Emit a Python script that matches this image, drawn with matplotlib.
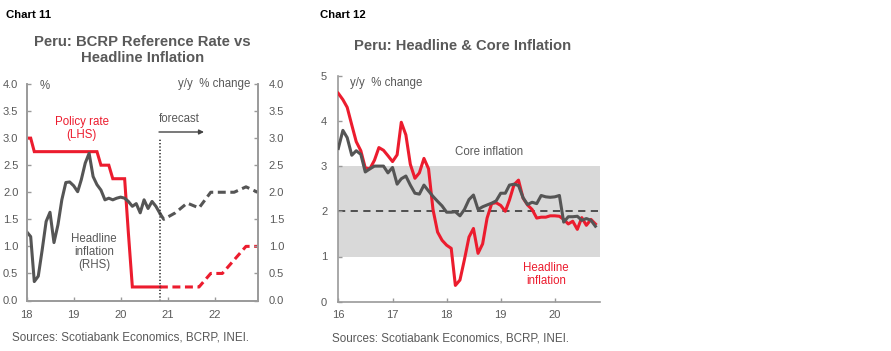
import numpy as np
import pandas as pd
import matplotlib
matplotlib.use("Agg")
import matplotlib.pyplot as plt
import matplotlib.dates as mdates

plt.rcParams["font.family"] = ["Liberation Sans", "DejaVu Sans"]

# ---- data: chart 11 ----
c11_months = pd.date_range("2018-01-01", periods=35, freq="MS")
c11_policy = [3.0, 3.0, 2.75, 2.75, 2.75, 2.75, 2.75, 2.75, 2.75, 2.75, 2.75, 2.75,
              2.75, 2.75, 2.75, 2.75, 2.75, 2.75, 2.75, 2.5, 2.5, 2.5, 2.25, 2.25,
              2.25, 2.25, 1.25, 0.25, 0.25, 0.25, 0.25, 0.25, 0.25, 0.25, 0.25]
c11_headline = [1.27, 1.18, 0.35, 0.45, 0.93, 1.46, 1.63, 1.07, 1.40, 1.86, 2.18, 2.19,
                2.12, 2.01, 2.23, 2.54, 2.72, 2.29, 2.14, 2.04, 1.86, 1.89, 1.86, 1.89,
                1.91, 1.89, 1.83, 1.74, 1.79, 1.62, 1.86, 1.70, 1.83, 1.74, 1.61]
c11_fc_dates = pd.to_datetime(["2020-11-01", "2020-12-01", "2021-03-01", "2021-06-01", "2021-09-01",
                               "2021-12-01", "2022-03-01", "2022-06-01", "2022-09-01", "2022-12-01"])
c11_fc_policy = [0.25, 0.25, 0.25, 0.25, 0.25, 0.5, 0.5, 0.75, 1.0, 1.0]
c11_fc_headline = [1.61, 1.50, 1.62, 1.80, 1.71, 2.0, 2.0, 2.0, 2.1, 2.0]
c11_forecast_start = pd.Timestamp("2020-11-01")

# ---- data: chart 12 ----
c12_months = pd.date_range("2016-01-01", periods=58, freq="MS")
c12_headline = [4.61, 4.47, 4.30, 3.91, 3.54, 3.34, 2.96, 2.94, 3.13, 3.41, 3.35, 3.23,
                3.10, 3.25, 3.97, 3.69, 3.04, 2.73, 2.85, 3.17, 2.94, 2.04, 1.54, 1.36,
                1.25, 1.18, 0.36, 0.48, 0.93, 1.43, 1.62, 1.07, 1.28, 1.85, 2.17, 2.19,
                2.13, 2.00, 2.25, 2.59, 2.69, 2.29, 2.14, 2.04, 1.85, 1.87, 1.87, 1.90,
                1.90, 1.89, 1.82, 1.72, 1.78, 1.60, 1.86, 1.69, 1.82, 1.72]
c12_core = [3.39, 3.79, 3.63, 3.24, 3.34, 3.26, 2.87, 2.94, 3.00, 3.00, 3.00, 2.85,
            2.97, 2.60, 2.72, 2.78, 2.58, 2.40, 2.38, 2.58, 2.45, 2.33, 2.22, 2.12,
            1.98, 1.98, 1.99, 1.90, 2.04, 2.26, 2.36, 2.04, 2.10, 2.14, 2.18, 2.23,
            2.40, 2.40, 2.58, 2.60, 2.57, 2.30, 2.15, 2.20, 2.17, 2.35, 2.32, 2.31,
            2.32, 2.35, 1.76, 1.88, 1.88, 1.89, 1.80, 1.84, 1.80, 1.67]
target_low, target_mid, target_high = 1, 2, 3

RED = "#ec1c2e"
GREY = "#555555"
TXT = "#595959"
AXC = "#9a9a9a"

W, H = 891, 351
fig = plt.figure(figsize=(W / 100, H / 100), dpi=100)


def fx(x):
    return x / W


def fy(y):
    return 1 - y / H


def style_axis(ax, sides):
    for s in ["top", "bottom", "left", "right"]:
        ax.spines[s].set_visible(s in sides)
        ax.spines[s].set_color(AXC)
        ax.spines[s].set_linewidth(1.2)
    ax.tick_params(direction="in", length=3, width=1, color=AXC, labelcolor=TXT, labelsize=8)


# %% chart 11
ax1 = fig.add_axes([fx(26.7), fy(300.5), fx(257.7) - fx(26.7), fy(84) - fy(300.5)])
ax1.plot(c11_months, c11_policy, color=RED, lw=2.2, solid_joinstyle="miter")
ax1.plot(c11_fc_dates, c11_fc_policy, color=RED, lw=2.2, dashes=(2.6, 1.5))
ax1.set_xlim(pd.Timestamp("2018-01-01"), pd.Timestamp("2022-12-01"))
ax1.set_ylim(0, 4)
ax1.set_yticks(np.arange(0, 4.01, 0.5))
ax1.yaxis.set_major_formatter(matplotlib.ticker.FormatStrFormatter("%.1f"))
ax1.xaxis.set_major_locator(mdates.YearLocator())
ax1.xaxis.set_major_formatter(mdates.DateFormatter("%y"))
style_axis(ax1, ["left", "bottom", "right"])
ax1.tick_params(axis="y", pad=6)
ax1.tick_params(axis="x", pad=7, labelsize=8)

ax1r = ax1.twinx()
ax1r.plot(c11_months, c11_headline, color=GREY, lw=2.2)
ax1r.plot(c11_fc_dates, c11_fc_headline, color=GREY, lw=2.2, dashes=(2.6, 1.5))
ax1r.set_ylim(0, 4)
ax1r.set_yticks(np.arange(0, 4.01, 0.5))
ax1r.yaxis.set_major_formatter(matplotlib.ticker.FormatStrFormatter("%.1f"))
style_axis(ax1r, ["left", "bottom", "right"])
ax1r.tick_params(axis="y", pad=8)
ax1r.axvline(c11_forecast_start, ymin=0, ymax=(300.5 - 138) / (300.5 - 84), color="#333333",
             lw=1.2, dashes=(0.8, 1.2))

fig.text(fx(6), fy(15), "Chart 11", fontsize=8.2, fontweight="bold", color="black",
         family=["Liberation Sans Narrow", "Liberation Sans"], va="center")
fig.text(fx(142.7), fy(50), "Peru: BCRP Reference Rate vs\nHeadline Inflation", fontsize=10.7,
         fontweight="bold", color=TXT, ha="center", va="center", linespacing=1.12)
fig.text(fx(40), fy(86), "%", fontsize=8.3, color=TXT, va="center")
fig.text(fx(250.5), fy(84), "y/y  % change", fontsize=8.3, color=TXT, va="center", ha="right")
fig.text(fx(81.7), fy(128.5), "Policy rate\n(LHS)", fontsize=8.3, color=RED, ha="center", va="center",
         linespacing=1.1)
fig.text(fx(94), fy(252), "Headline\ninflation\n(RHS)", fontsize=8.3, color=TXT, ha="center",
         va="center", linespacing=1.1)
fig.text(fx(159), fy(119.5), "forecast", fontsize=8.3, color=TXT, va="center")
ax1.annotate("", xy=(fx(204), fy(132)), xytext=(fx(159), fy(132)), xycoords=fig.transFigure,
             arrowprops=dict(arrowstyle="-|>", color="#444444", lw=1, shrinkA=0, shrinkB=0,
                             mutation_scale=7))
fig.text(fx(12.5), fy(337), "Sources: Scotiabank Economics, BCRP, INEI.", fontsize=8.4, color=TXT,
         va="center")

# %% chart 12
ax2 = fig.add_axes([fx(338.3), fy(301.7), fx(600) - fx(338.3), fy(75.7) - fy(301.7)])
ax2.axhspan(target_low, target_high, color="#d9d9d9", lw=0, zorder=0)
ax2.axhline(target_mid, color="#444444", lw=1.3, dashes=(4, 3), zorder=1)
ax2.plot(c12_months, c12_headline, color=RED, lw=2.2, zorder=3)
ax2.plot(c12_months, c12_core, color=GREY, lw=2.2, zorder=4)
ax2.set_xlim(pd.Timestamp("2016-01-01"), pd.Timestamp("2020-11-01"))
ax2.set_ylim(0, 5)
ax2.set_yticks(range(0, 6))
ax2.xaxis.set_major_locator(mdates.YearLocator())
ax2.xaxis.set_major_formatter(mdates.DateFormatter("%y"))
style_axis(ax2, ["left", "bottom"])
ax2.tick_params(axis="y", pad=8)
ax2.tick_params(axis="x", pad=6, labelsize=8)

fig.text(fx(320), fy(15), "Chart 12", fontsize=8.2, fontweight="bold", color="black",
         family=["Liberation Sans Narrow", "Liberation Sans"], va="center")
fig.text(fx(462.5), fy(46), "Peru: Headline & Core Inflation", fontsize=10.6, fontweight="bold",
         color=TXT, ha="center", va="center")
fig.text(fx(350.5), fy(83.3), "y/y  % change", fontsize=8.3, color=TXT, va="center")
fig.text(fx(489), fy(151.7), "Core inflation", fontsize=8.3, color=TXT, ha="center", va="center")
fig.text(fx(546), fy(274.5), "Headline\ninflation", fontsize=8.3, color=RED, ha="center",
         va="center", linespacing=1.1)
fig.text(fx(331.5), fy(338.3), "Sources: Scotiabank Economics, BCRP, INEI.", fontsize=8.4,
         color=TXT, va="center")

fig.savefig("out.png", dpi=100, facecolor="white")
